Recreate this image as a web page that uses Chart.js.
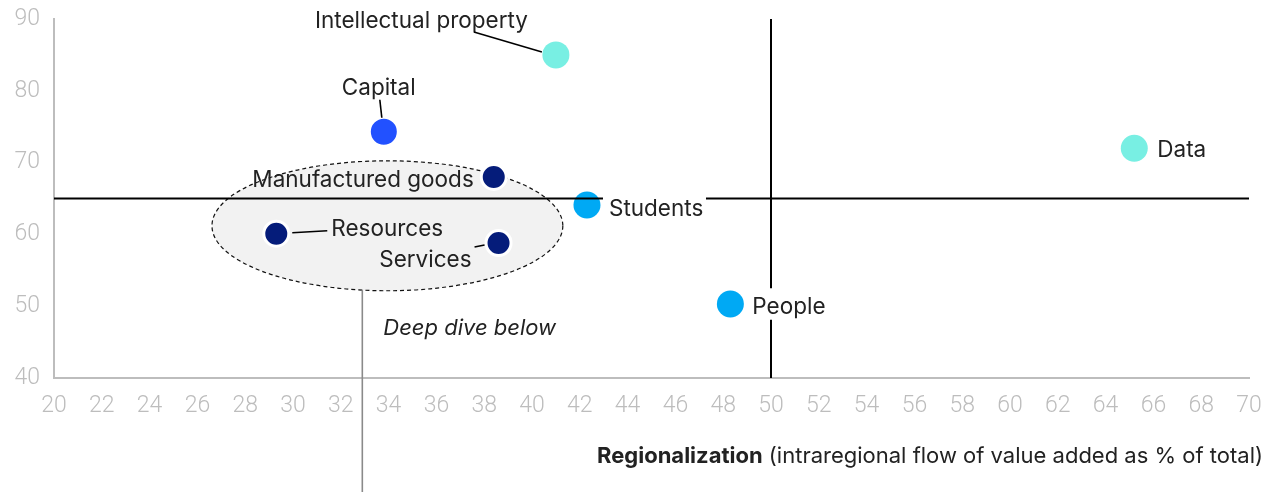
<!DOCTYPE html>
<html>
<head>
<meta charset="utf-8">
<script src="https://cdn.jsdelivr.net/npm/chart.js@4.4.0/dist/chart.umd.min.js"></script>
<style>
    html, body { margin: 0; padding: 0; background: #fff; }
    #wrap { width: 1281px; height: 492px; }
</style>
</head>
<body>
<div id="wrap"><canvas id="myChart" width="1281" height="492"></canvas></div>
<script>
// values
const categories = ['Intellectual property', 'Capital', 'Manufactured goods', 'Students', 'Resources', 'Services', 'People', 'Data'];
const regionalization = [41.0, 33.8, 38.4, 42.3, 29.3, 38.6, 48.3, 65.2];
const yValues = [85.0, 74.3, 68.0, 64.1, 60.1, 58.8, 50.3, 72.0];
const pointColors = ['#78efe3', '#2251ff', '#051c7a', '#00a9f4', '#051c7a', '#051c7a', '#00a9f4', '#78efe3'];

const xMin = 20, xMax = 70, xStep = 2;
const yMin = 40, yMax = 90, yStep = 10;

// reference lines (data units) and the "deep dive" ellipse
const hLine = { y: 65, gapFrom: 42.97, gapTo: 47.28 };
const vLine = { x: 50, gapFrom: 48.1, gapTo: 52.5 };
const deepDive = { cx: 33.95, cy: 61.2, rx: 7.34, ry: 9.05, stemX: 32.9 };

// label placement, in pixels from the point
const labelLayout = [
    { dx: -241, dy: -27, align: 'left', leader: [-82, -23, -14, -3] },
    { dx: -42, dy: -37, align: 'left', leader: [-4, -32, -2, -14] },
    { dx: -20, dy: 10, align: 'right' },
    { dx: 22, dy: 11, align: 'left' },
    { dx: 55, dy: 2, align: 'left', leader: [16, -1, 51, -3] },
    { dx: -27, dy: 24, align: 'right', leader: [-24, 4, -14, 2] },
    { dx: 22, dy: 10, align: 'left' },
    { dx: 23, dy: 9, align: 'left' },
];

const radii = pointColors.map(c => c === '#051c7a' ? 12.5 : (c === '#2251ff' ? 14.5 : 13.5));
const borders = pointColors.map(c => (c === '#051c7a' || c === '#2251ff') ? 3 : 0);

const labelFont = '22.5px Inter';
const textColor = '#222';

const overlay = {
    id: 'overlay',
    beforeDatasetsDraw(chart) {
        const ctx = chart.ctx;
        const xs = chart.scales.x, ys = chart.scales.y;
        const cx = xs.getPixelForValue(deepDive.cx);
        const cy = ys.getPixelForValue(deepDive.cy);
        const rx = xs.getPixelForValue(deepDive.cx + deepDive.rx) - cx;
        const ry = cy - ys.getPixelForValue(deepDive.cy + deepDive.ry);
        ctx.save();
        ctx.beginPath();
        ctx.ellipse(cx, cy, rx, ry, 0, 0, Math.PI * 2);
        ctx.fillStyle = '#f2f2f2';
        ctx.fill();
        ctx.setLineDash([4, 3]);
        ctx.strokeStyle = '#111';
        ctx.lineWidth = 1.2;
        ctx.stroke();
        ctx.restore();
    },
    afterDatasetsDraw(chart) {
        const ctx = chart.ctx;
        const xs = chart.scales.x, ys = chart.scales.y;
        const area = chart.chartArea;
        ctx.save();
        ctx.strokeStyle = '#000';
        ctx.lineWidth = 2;
        // horizontal line at 65
        const hy = ys.getPixelForValue(hLine.y);
        ctx.beginPath();
        ctx.moveTo(area.left, hy);
        ctx.lineTo(xs.getPixelForValue(hLine.gapFrom), hy);
        ctx.moveTo(xs.getPixelForValue(hLine.gapTo), hy);
        ctx.lineTo(area.right, hy);
        ctx.stroke();
        // vertical line at 50
        const vx = xs.getPixelForValue(vLine.x);
        ctx.beginPath();
        ctx.moveTo(vx, area.top);
        ctx.lineTo(vx, ys.getPixelForValue(vLine.gapTo));
        ctx.moveTo(vx, ys.getPixelForValue(vLine.gapFrom));
        ctx.lineTo(vx, area.bottom);
        ctx.stroke();

        // point labels
        const meta = chart.getDatasetMeta(0);
        ctx.font = labelFont;
        ctx.fillStyle = textColor;
        ctx.textBaseline = 'alphabetic';
        ctx.lineWidth = 1.6;
        meta.data.forEach((pt, i) => {
            const l = labelLayout[i];
            ctx.textAlign = l.align;
            ctx.fillText(categories[i], pt.x + l.dx, pt.y + l.dy);
            if (l.leader) {
                ctx.beginPath();
                ctx.moveTo(pt.x + l.leader[0], pt.y + l.leader[1]);
                ctx.lineTo(pt.x + l.leader[2], pt.y + l.leader[3]);
                ctx.stroke();
            }
        });
        ctx.restore();
    },
    afterDraw(chart) {
        const ctx = chart.ctx;
        const xs = chart.scales.x, ys = chart.scales.y;
        ctx.save();
        // stem from the ellipse down
        const sx = xs.getPixelForValue(deepDive.stemX);
        const cx = xs.getPixelForValue(deepDive.cx);
        const cy = ys.getPixelForValue(deepDive.cy);
        const rx = xs.getPixelForValue(deepDive.cx + deepDive.rx) - cx;
        const ry = cy - ys.getPixelForValue(deepDive.cy + deepDive.ry);
        const t = (sx - cx) / rx;
        const sy = cy + ry * Math.sqrt(1 - t * t);
        ctx.strokeStyle = '#8a8a8a';
        ctx.lineWidth = 1.6;
        ctx.beginPath();
        ctx.moveTo(sx, sy);
        ctx.lineTo(sx, chart.height);
        ctx.stroke();

        ctx.fillStyle = textColor;
        ctx.font = 'italic 22px Inter';
        ctx.textAlign = 'left';
        ctx.textBaseline = 'alphabetic';
        ctx.fillText('Deep dive below', sx + 21, 335);

        // axis title, bold word then the rest
        const boldPart = 'Regionalization';
        const rest = ' (intraregional flow of value added as % of total)';
        ctx.font = '22px Inter';
        const restW = ctx.measureText(rest).width;
        const right = 1263;
        ctx.textAlign = 'right';
        ctx.fillText(rest, right, 463);
        ctx.font = 'bold 22px Inter';
        ctx.fillText(boldPart, right - restW, 463);
        ctx.restore();
    }
};

const tickFont = { family: 'Roboto', size: 23, weight: 300 };

new Chart(document.getElementById('myChart'), {
    type: 'scatter',
    data: {
        datasets: [{
            data: categories.map((c, i) => ({ x: regionalization[i], y: yValues[i] })),
            backgroundColor: pointColors,
            borderColor: '#ffffff',
            borderWidth: borders,
            pointRadius: radii,
            pointHoverRadius: radii,
        }],
    },
    options: {
        responsive: false,
        animation: false,
        layout: { padding: { top: 19, right: 32, left: 0, bottom: 0 } },
        plugins: {
            legend: { display: false },
            tooltip: { enabled: false },
        },
        scales: {
            x: {
                type: 'linear',
                min: xMin,
                max: xMax,
                ticks: { stepSize: xStep, color: '#bdbdbd', font: tickFont, padding: 14, maxRotation: 0, autoSkip: false },
                grid: { display: false, drawTicks: false },
                border: { color: '#bdbdbd', width: 2 },
                afterFit(scale) {
                    scale.height = 114;
                    scale.paddingLeft = 0;
                    scale.paddingRight = 0;
                },
            },
            y: {
                min: yMin,
                max: yMax,
                ticks: { stepSize: yStep, color: '#bdbdbd', font: tickFont, padding: 14 },
                grid: { display: false, drawTicks: false },
                border: { color: '#bdbdbd', width: 2 },
                afterFit(scale) {
                    scale.width = 54;
                    scale.paddingTop = 0;
                    scale.paddingBottom = 0;
                },
            },
        },
    },
    plugins: [overlay],
});
</script>
</body>
</html>
